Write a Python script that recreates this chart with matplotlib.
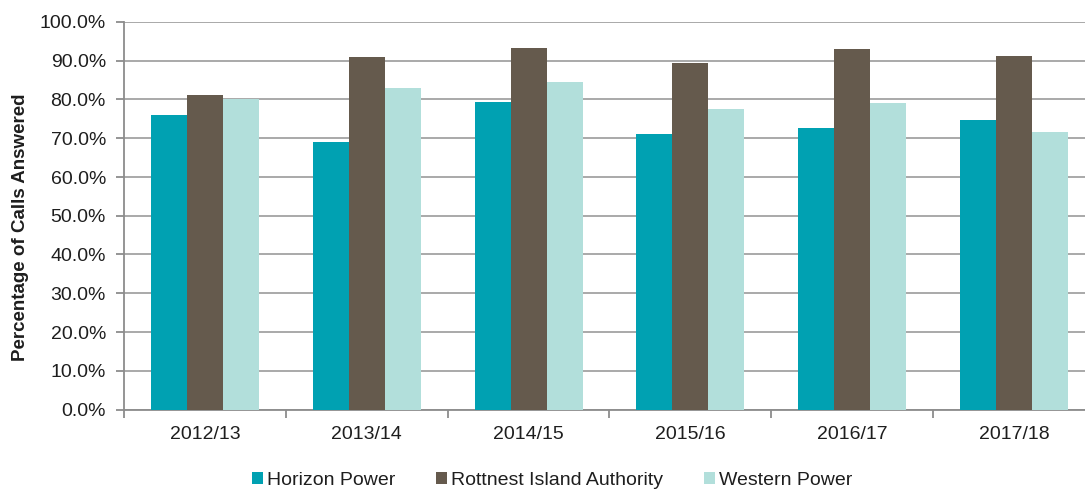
import matplotlib
matplotlib.use("Agg")
import matplotlib.pyplot as plt
import numpy as np
from matplotlib.ticker import FuncFormatter, FixedLocator

plt.rcParams['font.family'] = ['Liberation Sans', 'DejaVu Sans']

years = ["2012/13", "2013/14", "2014/15", "2015/16", "2016/17", "2017/18"]
horizon = [76.0, 69.1, 79.4, 71.1, 72.7, 74.8]
rottnest = [81.2, 90.9, 93.3, 89.3, 93.0, 91.1]
western = [80.0, 82.9, 84.5, 77.6, 79.2, 71.5]
series_names = ["Horizon Power", "Rottnest Island Authority", "Western Power"]
colors = ["#00A1B2", "#655A4D", "#B2DFDB"]

W, H = 1085, 490
fig = plt.figure(figsize=(W / 100, H / 100), dpi=100)
left, right, top, bottom = 124, 1095, 22, 409.5
ax = fig.add_axes([left / W, 1 - bottom / H, (right - left) / W, (bottom - top) / H])

x = np.arange(len(years))
w = 0.2225
for i, (vals, name, c) in enumerate(zip([horizon, rottnest, western], series_names, colors)):
    ax.bar(x + (i - 1) * w, vals, width=w, color=c, label=name, zorder=3)

ax.set_xlim(-0.5, len(years) - 0.5)
ax.set_ylim(0, 100)
ax.set_yticks(np.arange(0, 101, 10))
ax.yaxis.set_major_formatter(FuncFormatter(lambda v, p: f"{v:.1f}%"))
ax.yaxis.grid(True, color="#a3a3a3", linewidth=1.3, zorder=0)
ax.set_axisbelow(True)

ax.set_xticks(x)
ax.set_xticklabels(years)
ax.xaxis.set_minor_locator(FixedLocator(np.arange(-0.5, len(years), 1.0)))
ax.tick_params(axis='x', which='major', length=0, pad=12, labelsize=14, colors="#1e1e1e")
ax.tick_params(axis='x', which='minor', length=6, width=1.3, color="#8c8c8c")
ax.tick_params(axis='y', length=6, width=1.3, color="#8c8c8c", labelsize=14, labelcolor="#1e1e1e", pad=7)

for s in ["top", "right"]:
    ax.spines[s].set_visible(False)
for s in ["left", "bottom"]:
    ax.spines[s].set_color("#8c8c8c")
    ax.spines[s].set_linewidth(1.3)

fig.text(21 / W, 1 - 227 / H, "Percentage of Calls Answered", rotation=90,
         ha="center", va="center", fontsize=13.5, fontweight="bold", color="#1e1e1e")

leg = fig.legend(loc="center", bbox_to_anchor=(552 / W, 1 - 480 / H), ncol=3, frameon=False,
                 fontsize=14, handlelength=0.57, handleheight=0.57, handletextpad=0.2,
                 columnspacing=2.1, labelcolor="#1e1e1e")

fig.savefig("out.png", dpi=100)
